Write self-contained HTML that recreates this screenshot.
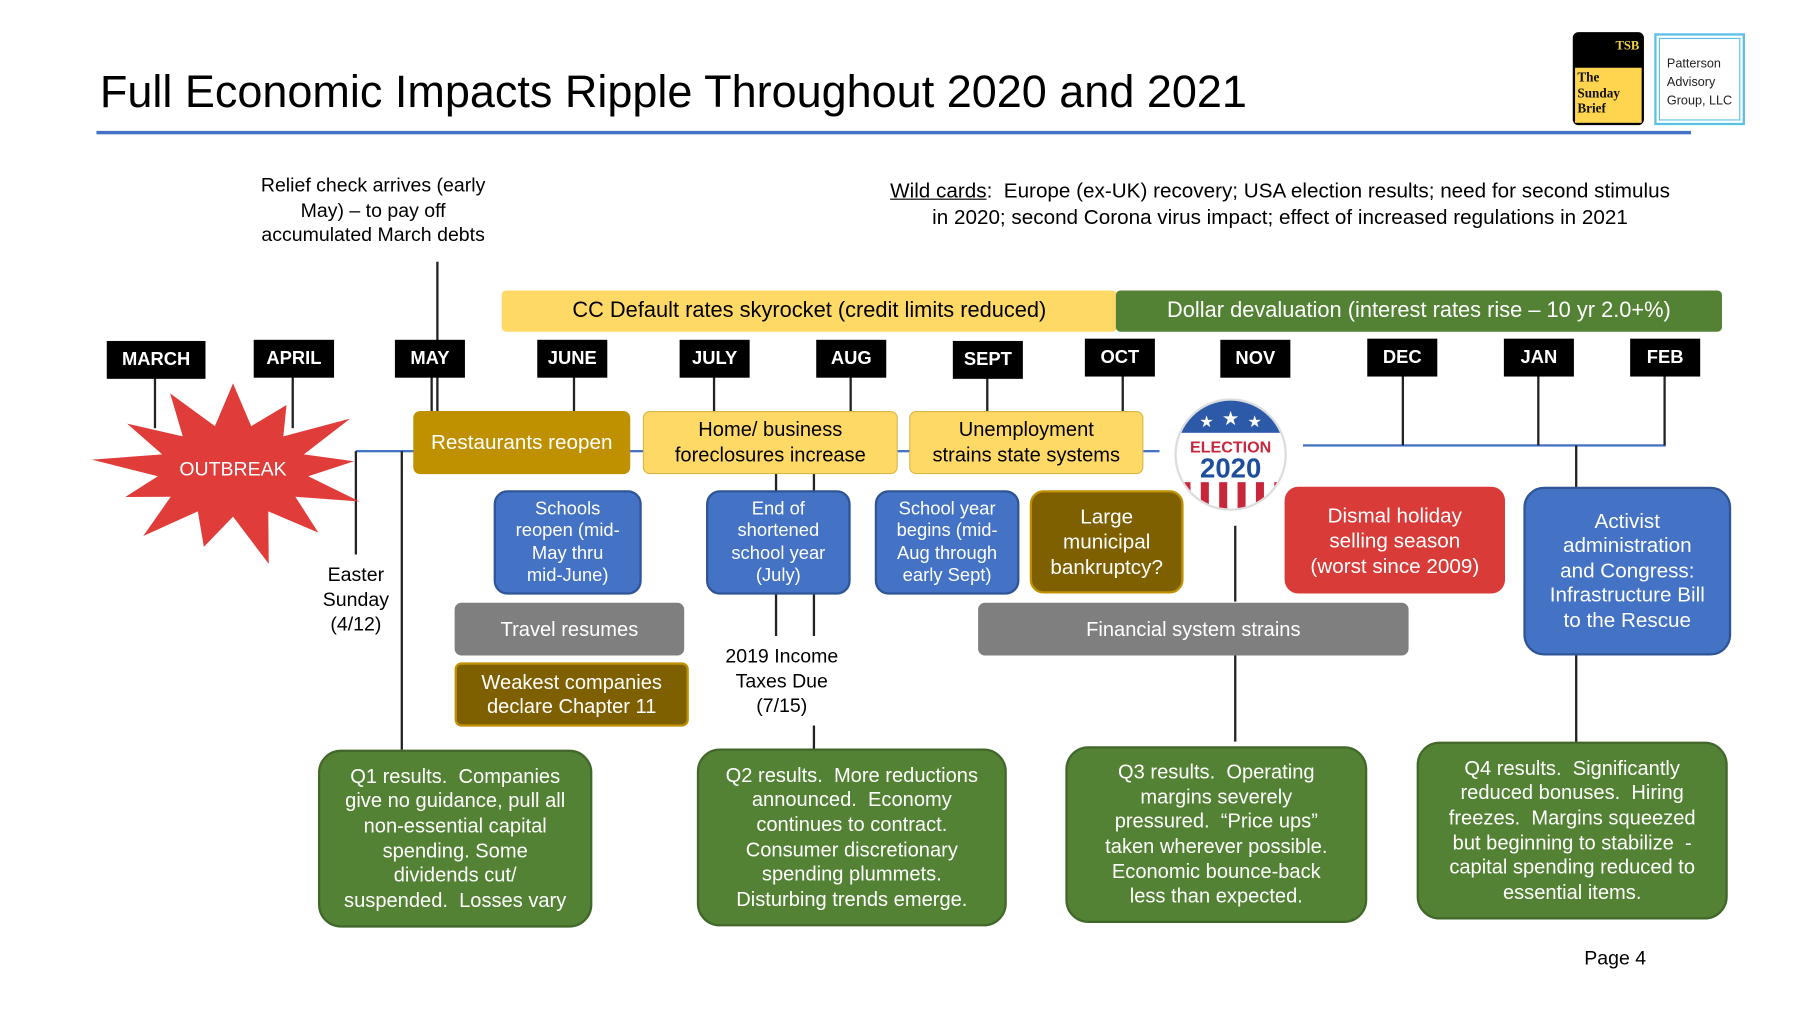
<!DOCTYPE html>
<html><head><meta charset="utf-8"><style>
html,body{margin:0;padding:0;background:#fff;overflow:hidden}
#w{width:1568px;height:882px;position:relative;transform:scale(1.148);transform-origin:0 0;font-family:"Liberation Sans",sans-serif}
.a{position:absolute;box-sizing:border-box}
.m{background:#000;color:#fff;font-weight:bold;font-size:16px;display:flex;align-items:center;justify-content:center;width:61px;height:33px}
.b{display:flex;align-items:center;justify-content:center;text-align:center;border-radius:9px;white-space:nowrap}
.blue{background:#4472c4;border:2px solid #2f5597;color:#fff;font-size:16px;line-height:19.5px;border-radius:12px}
.g{background:#548235;border:2px solid #41682a;color:#fff;font-size:17.5px;line-height:21.6px;border-radius:20px}
.vl{position:absolute;width:2px;background:#222}
.t{position:absolute;text-align:center;white-space:nowrap}
</style></head><body><div id="w">
<div class="a" style="left:87px;top:59px;font-size:39.2px;color:#000">Full Economic Impacts Ripple Throughout 2020 and 2021</div>
<div class="a" style="left:84px;top:114px;width:1389px;height:3px;background:#4472c4"></div>
<div class="a" style="left:1370px;top:28px;width:62px;height:81px;border-radius:5px;background:#000;overflow:hidden">
 <div style="position:absolute;right:4px;top:6px;color:#f0d040;font:bold 11px 'Liberation Serif',serif">TSB</div>
 <div style="position:absolute;left:2px;right:2px;top:31px;bottom:2px;background:#ffd54f;font:bold 11.5px/13.5px 'Liberation Serif',serif;padding:3px 2px;color:#111">The<br>Sunday<br>Brief</div>
</div>
<div class="a" style="left:1441px;top:29px;width:79px;height:80px;border:2px solid #5bc0e6;padding:2px"><div style="border:1px solid #5bc0e6;height:100%;box-sizing:border-box;font-size:11px;line-height:16px;padding:14px 0 0 6px;color:#222">Patterson<br>Advisory<br>Group, LLC</div></div>

<div class="t" style="left:175px;top:151px;width:300px;font-size:17px;line-height:21.5px">Relief check arrives (early<br>May) – to pay off<br>accumulated March debts</div>
<div class="t" style="left:715px;top:155px;width:800px;font-size:18px;line-height:23px"><u>Wild cards</u>:&nbsp; Europe (ex-UK) recovery; USA election results; need for second stimulus<br>in 2020; second Corona virus impact; effect of increased regulations in 2021</div>

<div class="vl" style="left:380px;top:228px;height:130px"></div>
<div class="a" style="left:310px;top:392px;width:700px;height:2px;background:#4472c4"></div>
<div class="a" style="left:1135px;top:387px;width:316px;height:2px;background:#4472c4"></div>
<div class="vl" style="left:134px;top:328px;height:45px"></div>
<div class="vl" style="left:254px;top:328px;height:45px"></div>
<div class="vl" style="left:375px;top:328px;height:30px"></div>
<div class="vl" style="left:499px;top:328px;height:30px"></div>
<div class="vl" style="left:621px;top:328px;height:30px"></div>
<div class="vl" style="left:740px;top:328px;height:30px"></div>
<div class="vl" style="left:859px;top:328px;height:30px"></div>
<div class="vl" style="left:977px;top:326px;height:32px"></div>
<div class="vl" style="left:1221px;top:327px;height:61px"></div>
<div class="vl" style="left:1339px;top:327px;height:61px"></div>
<div class="vl" style="left:1449px;top:326px;height:62px"></div>
<div class="vl" style="left:309px;top:393px;height:90px"></div>
<div class="vl" style="left:349px;top:393px;height:260px"></div>
<div class="vl" style="left:675px;top:412px;height:16px"></div>
<div class="vl" style="left:708px;top:412px;height:16px"></div>
<div class="vl" style="left:675px;top:517px;height:37px"></div>
<div class="vl" style="left:708px;top:517px;height:37px"></div>
<div class="vl" style="left:708px;top:632px;height:21px"></div>
<div class="vl" style="left:1075px;top:458px;height:66px"></div>
<div class="vl" style="left:1075px;top:571px;height:75px"></div>
<div class="vl" style="left:1372px;top:388px;height:37px"></div>
<div class="vl" style="left:1372px;top:570px;height:77px"></div>

<div class="a b" style="left:437px;top:253px;width:536px;height:36px;background:#ffd966;border-radius:4px;font-size:19px">CC Default rates skyrocket (credit limits reduced)</div>
<div class="a b" style="left:972px;top:253px;width:528px;height:36px;background:#548235;color:#fff;border-radius:4px;font-size:19px">Dollar devaluation (interest rates rise – 10 yr 2.0+%)</div>

<div class="a m" style="left:93px;top:297px;width:86px">MARCH</div>
<div class="a m" style="left:221px;top:296px;width:70px">APRIL</div>
<div class="a m" style="left:344px;top:296px">MAY</div>
<div class="a m" style="left:468px;top:296px">JUNE</div>
<div class="a m" style="left:592px;top:296px">JULY</div>
<div class="a m" style="left:711px;top:296px">AUG</div>
<div class="a m" style="left:830px;top:297px">SEPT</div>
<div class="a m" style="left:945px;top:295px">OCT</div>
<div class="a m" style="left:1063px;top:296px">NOV</div>
<div class="a m" style="left:1191px;top:295px">DEC</div>
<div class="a m" style="left:1310px;top:295px">JAN</div>
<div class="a m" style="left:1420px;top:295px">FEB</div>

<svg class="a" style="left:0;top:0" width="1568" height="882"><polygon id="star" fill="#e03c3a"/>
<text x="203" y="414" fill="#fff" font-size="17" text-anchor="middle" font-family="Liberation Sans">OUTBREAK</text>
<g>
<clipPath id="cp"><circle cx="1072" cy="396" r="47"/></clipPath>
<circle cx="1072" cy="396" r="49" fill="#ddd"/>
<g clip-path="url(#cp)">
<rect x="1020" y="340" width="110" height="120" fill="#fff"/>
<rect x="1020" y="340" width="110" height="37" fill="#2d5aa8"/>
<g fill="#c8263a"><rect x="1030" y="420" width="7" height="30"/><rect x="1046" y="420" width="7" height="30"/><rect x="1062" y="420" width="7" height="30"/><rect x="1078" y="420" width="7" height="30"/><rect x="1094" y="420" width="7" height="30"/><rect x="1110" y="420" width="7" height="30"/></g>
</g>
<text x="1051" y="372" fill="#fff" font-size="14" text-anchor="middle">★</text><text x="1072" y="370" fill="#fff" font-size="17" text-anchor="middle">★</text><text x="1093" y="372" fill="#fff" font-size="14" text-anchor="middle">★</text>
<text x="1072" y="394" fill="#c8263a" font-size="14" font-weight="bold" text-anchor="middle">ELECTION</text>
<text x="1072" y="416" fill="#1f4e9a" font-size="24" font-weight="bold" text-anchor="middle">2020</text>
</g></svg>

<div class="a b" style="left:360px;top:358px;width:189px;height:55px;background:#bf9000;color:#fff;font-size:18px;border-radius:6px">Restaurants reopen</div>
<div class="a b" style="left:560px;top:358px;width:222px;height:55px;background:#ffd966;border:1px solid #d9b84a;font-size:17.5px;line-height:21.5px;border-radius:6px">Home/ business<br>foreclosures increase</div>
<div class="a b" style="left:792px;top:358px;width:204px;height:55px;background:#ffd966;border:1px solid #d9b84a;font-size:17.5px;line-height:21.5px;border-radius:6px">Unemployment<br>strains state systems</div>

<div class="a b blue" style="left:430px;top:427px;width:129px;height:91px">Schools<br>reopen (mid-<br>May thru<br>mid-June)</div>
<div class="a b blue" style="left:615px;top:427px;width:126px;height:91px">End of<br>shortened<br>school year<br>(July)</div>
<div class="a b blue" style="left:762px;top:427px;width:126px;height:91px">School year<br>begins (mid-<br>Aug through<br>early Sept)</div>
<div class="a b" style="left:897px;top:427px;width:134px;height:90px;background:#7f6000;border:2px solid #bf9000;color:#fff;font-size:18px;line-height:22px;border-radius:12px">Large<br>municipal<br>bankruptcy?</div>
<div class="a b" style="left:1119px;top:424px;width:192px;height:93px;background:#d83b38;color:#fff;font-size:18px;line-height:22px;border-radius:12px">Dismal holiday<br>selling season<br>(worst since 2009)</div>
<div class="a b blue" style="left:1327px;top:424px;width:181px;height:147px;font-size:18px;line-height:21.6px;border-radius:18px">Activist<br>administration<br>and Congress:<br>Infrastructure Bill<br>to the Rescue</div>

<div class="a b" style="left:396px;top:525px;width:200px;height:46px;background:#7f7f7f;color:#fff;font-size:17.5px;border-radius:6px">Travel resumes</div>
<div class="a b" style="left:396px;top:577px;width:204px;height:56px;background:#7f6000;border:2px solid #bf9000;color:#fff;font-size:17.5px;line-height:21.5px;border-radius:6px">Weakest companies<br>declare Chapter 11</div>
<div class="a b" style="left:852px;top:525px;width:375px;height:46px;background:#7f7f7f;color:#fff;font-size:17.5px;border-radius:6px">Financial system strains</div>

<div class="t" style="left:270px;top:490px;width:80px;font-size:17px;line-height:21.5px">Easter<br>Sunday<br>(4/12)</div>
<div class="t" style="left:610px;top:561px;width:142px;font-size:17px;line-height:21.5px">2019 Income<br>Taxes Due<br>(7/15)</div>

<div class="a b g" style="left:277px;top:653px;width:239px;height:155px">Q1 results.&nbsp; Companies<br>give no guidance, pull all<br>non-essential capital<br>spending. Some<br>dividends cut/<br>suspended.&nbsp; Losses vary</div>
<div class="a b g" style="left:607px;top:652px;width:270px;height:155px">Q2 results.&nbsp; More reductions<br>announced.&nbsp; Economy<br>continues to contract.<br>Consumer discretionary<br>spending plummets.<br>Disturbing trends emerge.</div>
<div class="a b g" style="left:928px;top:650px;width:263px;height:154px">Q3 results.&nbsp; Operating<br>margins severely<br>pressured.&nbsp; “Price ups”<br>taken wherever possible.<br>Economic bounce-back<br>less than expected.</div>
<div class="a b g" style="left:1234px;top:646px;width:271px;height:155px">Q4 results.&nbsp; Significantly<br>reduced bonuses.&nbsp; Hiring<br>freezes.&nbsp; Margins squeezed<br>but beginning to stabilize&nbsp; -<br>capital spending reduced to<br>essential items.</div>

<div class="a" style="left:1380px;top:825px;font-size:17px">Page 4</div>
</div>
<script>
var cx=203,cy=410,n=13,pts=[];
var outs=[1,0.85,1.05,0.9,1,0.95,1.1,0.9,1,0.85,1.05,0.95,1];
for(var i=0;i<n*2;i++){var a=Math.PI*2*i/(n*2)-Math.PI/2;var o=i%2==0;var k=o?outs[(i/2)|0]:1;
var rx=o?118*k:66,ry=o?76*k:40;pts.push((cx+rx*Math.cos(a)).toFixed(1)+','+(cy+ry*Math.sin(a)).toFixed(1));}
document.getElementById('star').setAttribute('points',pts.join(' '));
</script>
</body></html>
